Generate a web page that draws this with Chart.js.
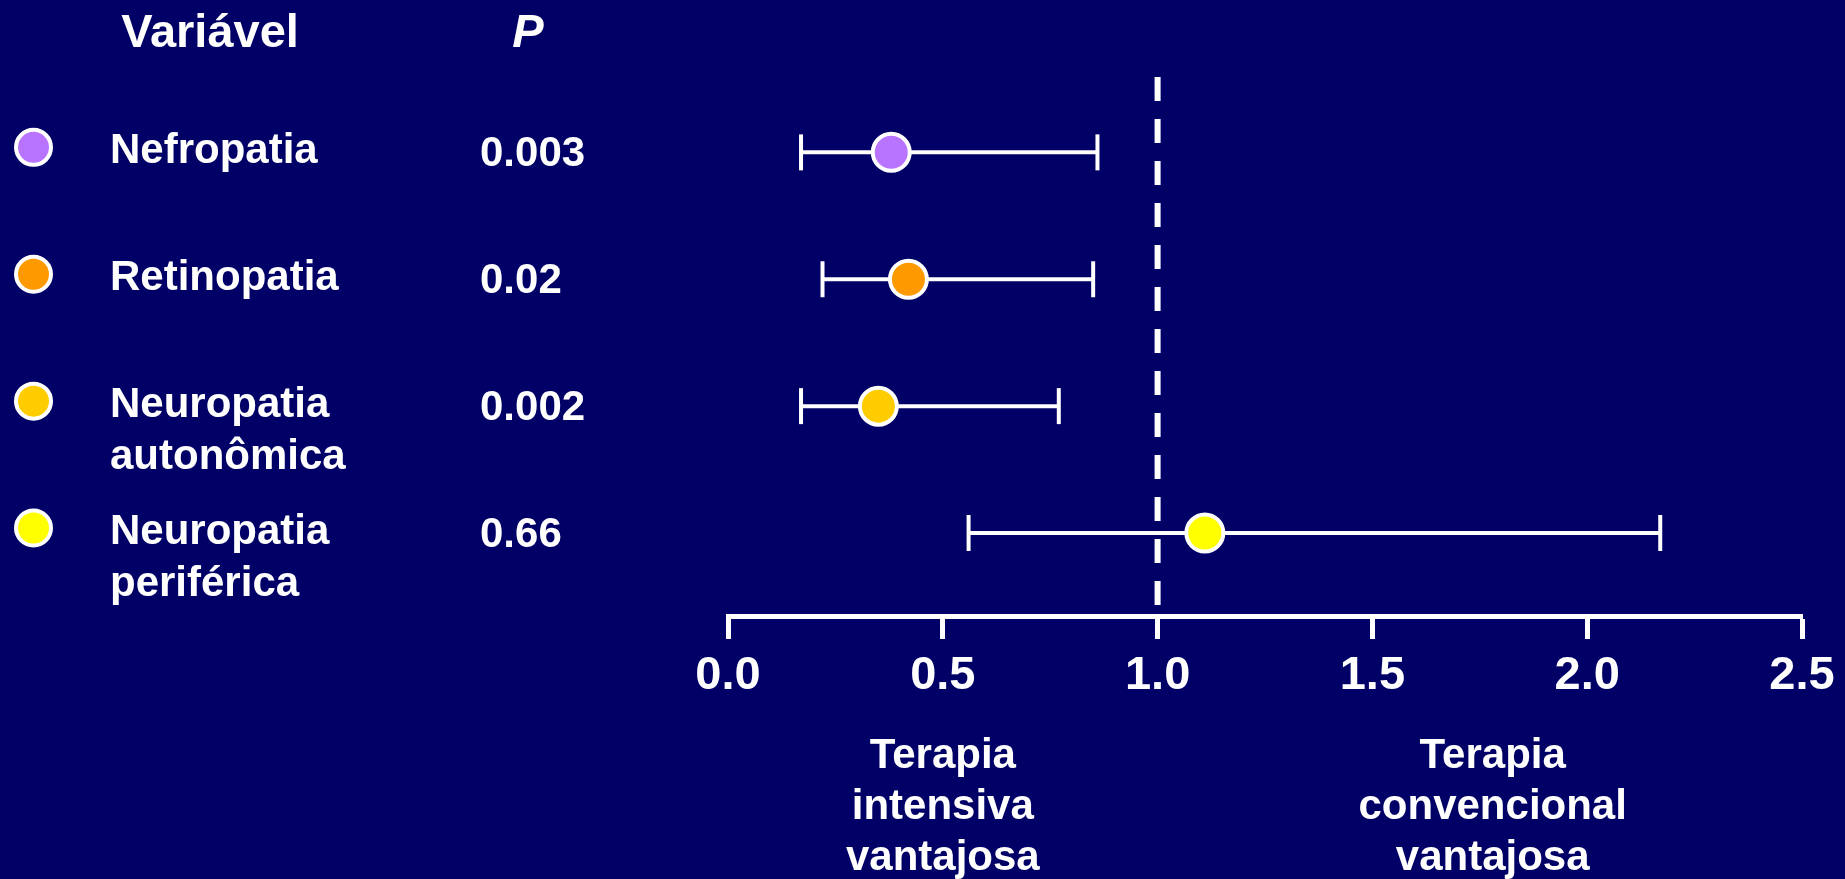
<!DOCTYPE html>
<html>
<head>
<meta charset="utf-8">
<script src="https://cdn.jsdelivr.net/npm/chart.js@4.4.1/dist/chart.umd.min.js"></script>
<style>
    html, body { margin: 0; padding: 0; background: #000066; overflow: hidden; }
    canvas { display: block; }
</style>
</head>
<body>
<canvas id="forestChart" width="1845" height="879"></canvas>
<script>
// data
const variables = [['Nefropatia'], ['Retinopatia'], ['Neuropatia', 'autonômica'], ['Neuropatia', 'periférica']];
const pValues = ['0.003', '0.02', '0.002', '0.66'];
const estimates = [0.38, 0.42, 0.35, 1.11];
const lowerCI = [0.17, 0.22, 0.17, 0.56];
const upperCI = [0.86, 0.85, 0.77, 2.17];
const dotColors = ['#B974FF', '#FF9900', '#FFCC00', '#FFFF00'];
const xTicks = [0, 0.5, 1.0, 1.5, 2.0, 2.5];
const referenceValue = 1.0;
const headers = ['Variável', 'P'];
const captionLeft = ['Terapia', 'intensiva', 'vantajosa'];
const captionRight = ['Terapia', 'convencional', 'vantajosa'];

const FONT = '"Liberation Sans", Arial, Helvetica, sans-serif';
const Y_MIN = -0.594, Y_MAX = 3.654;

const background = {
    id: 'background',
    beforeDraw(chart) {
        const ctx = chart.ctx;
        ctx.save();
        ctx.fillStyle = '#000066';
        ctx.fillRect(0, 0, chart.width, chart.height);
        ctx.restore();
    }
};

// left table (dots, names, p values) and the captions under the axis
const tablePlugin = {
    id: 'table',
    afterDraw(chart) {
        const ctx = chart.ctx;
        const x = chart.scales.x, y = chart.scales.y;
        ctx.save();
        ctx.fillStyle = '#FFFFFF';
        ctx.textBaseline = 'alphabetic';
        ctx.textAlign = 'center';
        ctx.font = 'bold 47px ' + FONT;
        ctx.fillText(headers[0], 210, 47);
        ctx.font = 'italic bold 47px ' + FONT;
        ctx.fillText(headers[1], 528, 47);

        variables.forEach((lines, i) => {
            const py = y.getPixelForValue(i);
            ctx.beginPath();
            ctx.arc(33.5, py - 5, 17.5, 0, Math.PI * 2);
            ctx.fillStyle = dotColors[i];
            ctx.fill();
            ctx.lineWidth = 4;
            ctx.strokeStyle = '#FFFFFF';
            ctx.stroke();

            ctx.fillStyle = '#FFFFFF';
            ctx.textAlign = 'left';
            ctx.font = 'bold 42px ' + FONT;
            lines.forEach((t, k) => ctx.fillText(t, 110, py + 11 + k * 52));
            ctx.fillText(pValues[i], 480, py + 14);
        });

        ctx.textAlign = 'center';
        ctx.font = 'bold 42px ' + FONT;
        const base = chart.chartArea.bottom + 152;
        captionLeft.forEach((t, k) => ctx.fillText(t, x.getPixelForValue(0.5), base + k * 51));
        captionRight.forEach((t, k) => ctx.fillText(t, x.getPixelForValue(1.78), base + k * 51));
        ctx.restore();
    }
};

const ciDatasets = variables.map((v, i) => ({
    type: 'line',
    data: [{ x: lowerCI[i], y: i }, { x: upperCI[i], y: i }],
    borderColor: '#FFFFFF',
    borderWidth: 4,
    pointStyle: 'line',
    pointRotation: 90,
    pointRadius: 18,
    pointBorderWidth: 4,
    pointBorderColor: '#FFFFFF',
    clip: false,
    order: 1
}));

const ctx = document.getElementById('forestChart').getContext('2d');
const forestChart = new Chart(ctx, {
    type: 'scatter',
    data: {
        datasets: [{
            type: 'scatter',
            data: estimates.map((e, i) => ({ x: e, y: i })),
            pointBackgroundColor: dotColors,
            pointBorderColor: '#FFFFFF',
            pointBorderWidth: 4,
            pointRadius: 18.5,
            clip: false,
            order: 0
        }, ...ciDatasets, {
            type: 'line',
            data: [{ x: referenceValue, y: Y_MIN }, { x: referenceValue, y: Y_MAX }],
            borderColor: '#FFFFFF',
            borderWidth: 6,
            borderDash: [24, 18],
            pointRadius: 0,
            clip: false,
            order: 2
        }]
    },
    options: {
        responsive: false,
        animation: false,
        events: [],
        layout: { padding: { left: 728, right: 43, top: 77, bottom: 0 } },
        plugins: { legend: { display: false }, tooltip: { enabled: false } },
        scales: {
            x: {
                type: 'linear',
                min: 0,
                max: 2.5,
                afterBuildTicks: s => { s.ticks = xTicks.map(v => ({ value: v })); },
                afterFit: s => { s.height = 263; },
                ticks: {
                    color: '#FFFFFF',
                    font: { family: FONT, size: 47, weight: 'bold' },
                    padding: 9,
                    maxRotation: 0,
                    autoSkip: false,
                    callback: v => Number(v).toFixed(1)
                },
                grid: { drawOnChartArea: false, drawTicks: true, tickLength: 23, tickWidth: 5, tickColor: '#FFFFFF' },
                border: { display: true, color: '#FFFFFF', width: 5 }
            },
            y: { type: 'linear', display: false, reverse: true, min: Y_MIN, max: Y_MAX }
        }
    },
    plugins: [background, tablePlugin]
});
</script>
</body>
</html>
